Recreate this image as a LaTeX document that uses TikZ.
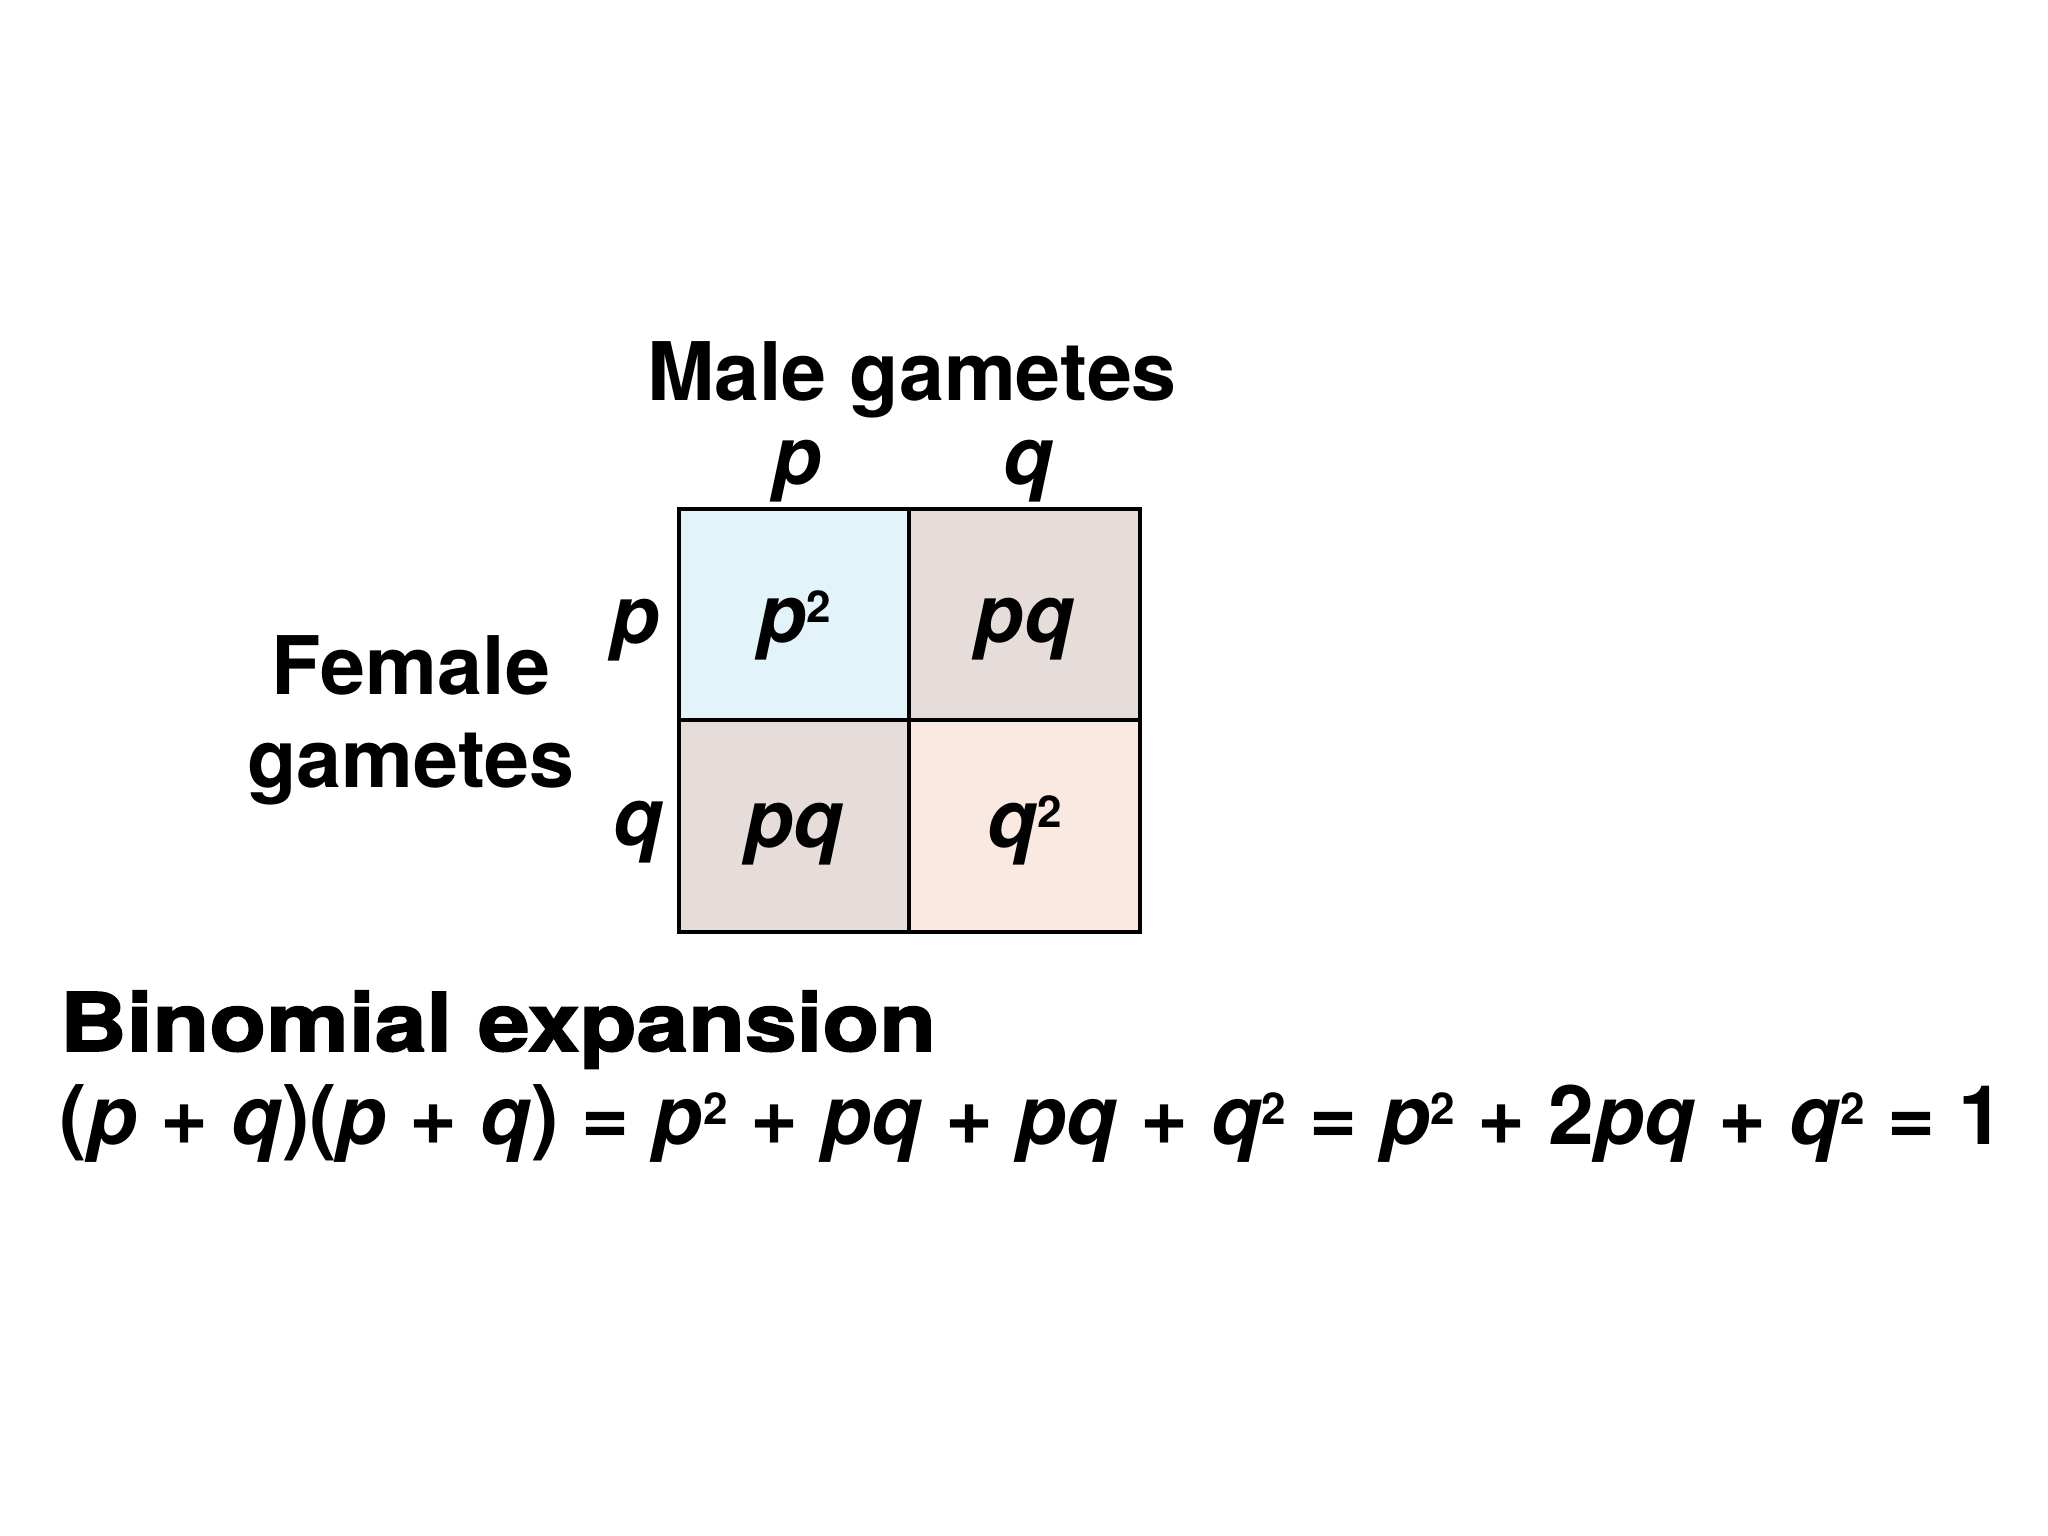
\documentclass[tikz,border=0pt]{standalone}
\usepackage{fontspec}
\setmainfont{TeX Gyre Heros}
\newfontfamily\heavyfont{TeX Gyre Heros}[BoldFeatures={FakeBold=2,FakeStretch=1.15}]
\newcommand{\gv}[1]{\textit{#1}}
\newcommand{\gsq}[1]{\textit{#1}\raisebox{5.8pt}{\fontsize{12.5}{12.5}\selectfont\bfseries\upshape 2}}
\definecolor{cellblue}{HTML}{E2F3FA}
\definecolor{cellmix}{HTML}{E6DCD9}
\definecolor{cellpeach}{HTML}{FAE9E0}

\begin{document}
\begin{tikzpicture}[
    txt/.style={font=\fontsize{23}{24}\selectfont\bfseries, inner sep=0pt},
    cell/.style={draw=black, line width=1.2pt, minimum width=2.305cm, minimum height=2.115cm, inner sep=0pt}
]
    \useasboundingbox (0,0) rectangle (20.48,15.36);
    % Punnett square
    \node[cell, fill=cellblue]  (pp) at (7.94,9.215) {};
    \node[cell, fill=cellmix]   (pq) at (10.245,9.215) {};
    \node[cell, fill=cellmix]   (qp) at (7.94,7.10) {};
    \node[cell, fill=cellpeach] (qq) at (10.245,7.10) {};
    \node[txt, anchor=base] (ppt) at ([yshift=-0.28cm]pp.center) {\gsq{p}};
    \node[txt, anchor=base] (pqt) at ([yshift=-0.28cm]pq.center) {\gv{pq}};
    \node[txt, anchor=base] (qpt) at ([yshift=-0.22cm]qp.center) {\gv{pq}};
    \node[txt, anchor=base] (qqt) at ([yshift=-0.22cm]qq.center) {\gsq{q}};
    % gametes
    \node[txt, anchor=base] (male) at (9.12,11.35) {Male gametes};
    \node[txt, anchor=base] (colp) at (7.97,10.51) {\gv{p}};
    \node[txt, anchor=base] (colq) at (10.29,10.51) {\gv{q}};
    \node[txt, anchor=base] (rowp) at (6.35,8.92) {\gv{p}};
    \node[txt, anchor=base] (rowq) at (6.39,6.90) {\gv{q}};
    \node[txt, align=center, font=\fontsize{23}{26.5}\selectfont\bfseries] (female) at (4.11,8.16) {Female\\gametes};
    % expansion
    \node[txt, anchor=base west, font=\fontsize{23}{24}\selectfont\heavyfont\bfseries] (binom) at (0.59,4.85) {Binomial expansion};
    \node[txt, anchor=base west, font=\fontsize{23.4}{24}\selectfont\bfseries] (eqn) at (0.59,3.91)
        {(\gv{p} + \gv{q})(\gv{p} + \gv{q}) = \gsq{p} + \gv{pq} + \gv{pq} + \gsq{q} = \gsq{p} + 2\gv{pq} + \gsq{q} = 1};
\end{tikzpicture}
\end{document}
